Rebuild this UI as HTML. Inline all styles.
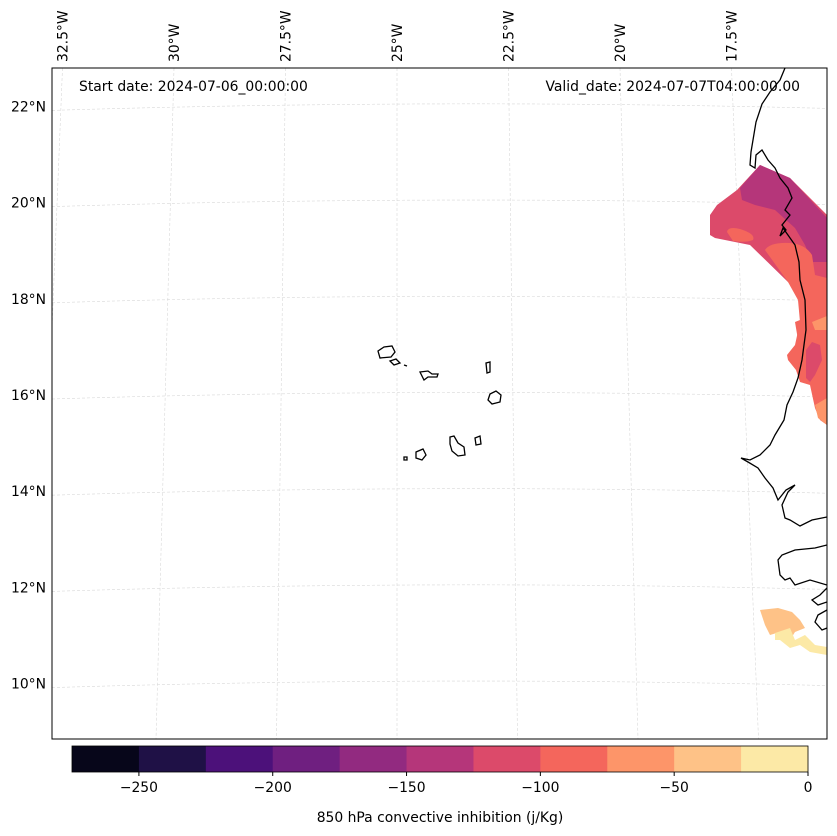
<!DOCTYPE html>
<html><head><meta charset="utf-8"><style>
html,body{margin:0;padding:0;background:#fff}
svg{display:block;font-family:"DejaVu Sans","Liberation Sans",sans-serif}
</style></head><body>
<svg id="chart" width="837" height="836" viewBox="0 0 837 836">
<defs><clipPath id="plotclip"><rect x="52" y="68" width="775" height="671"/></clipPath></defs>
<g id="grid" clip-path="url(#plotclip)"></g>
<g clip-path="url(#plotclip)">
<g id="fills"></g>
<g fill="none" stroke="#000" stroke-width="1.3">
<path d="M785,68 L780,80 L770,92 L762,104 L756,122 L753,140 L751,152 L750,165 L755,168 L756,155 L762,150 L768,160 L775,168 L780,178 L788,188 L792,198 L785,210 L790,215 L782,225 L786,230 L780,236 L783,228 L795,245 L799,262 L800,280 L805,300 L806,330 L802,360 L798,378 L793,392 L787,405 L784,420 L775,435 L770,445 L760,455 L750,460 L741,458 L748,462 L758,468 L765,478 L773,488 L778,500 L786,490 L795,485 L788,492 L782,505 L785,518 L790,520 L800,526 L812,520 L827,517"/>
<path d="M827,545 L815,548 L795,550 L782,555 L778,560 L780,575 L785,580 L790,578 L795,585 L810,580 L827,585 M827,588 L820,595 L812,600 L818,605 L827,602 M827,610 L818,615 L815,622 L822,630 L827,628"/>
<path d="M378,351 L384,347 L392,346 L395,352 L391,357 L380,358 Z"/>
<path d="M390,361 L396,359 L400,363 L394,365 Z"/>
<path d="M404,365 L407,366"/>
<path d="M420,372 L428,371 L432,374 L438,374 L437,377 L428,377 L424,380 Z"/>
<path d="M486,363 L490,362 L490,372 L487,373 Z"/>
<path d="M490,394 L496,391 L501,395 L500,402 L492,404 L488,400 Z"/>
<path d="M450,437 L454,436 L458,443 L464,447 L465,455 L458,456 L452,451 L450,444 Z"/>
<path d="M475,438 L480,436 L481,444 L476,445 Z"/>
<path d="M416,452 L423,449 L426,455 L422,460 L416,458 Z"/>
<path d="M404,457 L407,457 L407,460 L404,460 Z"/>
</g></g>
<rect x="52" y="68" width="775" height="671" fill="none" stroke="#000" stroke-width="1"/>
<text x="79" y="91" font-size="13.9">Start date: 2024-07-06_00:00:00</text>
<text x="800" y="91" font-size="13.9" text-anchor="end">Valid_date: 2024-07-07T04:00:00.00</text>
<g id="latlabels" font-size="13.9" text-anchor="end"></g>
<g id="lonlabels" font-size="13.9"></g>
<g id="cbar"></g>
<text x="440" y="822" font-size="13.9" text-anchor="middle">850 hPa convective inhibition (j/Kg)</text>
</svg>
<script>
const levels=[-275,-250,-225,-200,-175,-150,-125,-100,-75,-50,-25,0];
const colors=["#07061a","#1f1146","#4c117a","#6f1f80","#922a80","#b5367a","#dc4a6a","#f4665c","#fd9569","#fec287","#fce9a6"];
const cbTicks=[-250,-200,-150,-100,-50,0];
const latTicks=[22,20,18,16,14,12,10];
const lonTicks=[32.5,30,27.5,25,22.5,20,17.5];
const regionValues=[-125,-150,-100,-100,-100,-125,-75,-75,-50,-25];
const regionShapes=[
"M710,215 L717,205 L737,190 L760,165 L790,178 L827,215 L827,300 L800,290 L788,282 L750,245 L715,238 L710,235 Z",
"M740,188 L760,165 L790,178 L827,218 L827,262 L812,262 L805,245 L795,228 L775,210 L755,205 L742,200 Z",
"M727,232 Q728,226 740,229 Q756,234 753,240 Q745,243 733,241 Z",
"M765,250 Q770,242 790,243 Q805,244 812,255 L815,275 L827,278 L827,425 L820,420 L815,408 L810,385 L800,382 L796,370 L788,360 L787,355 L795,345 L800,322 L798,300 L788,282 Z",
"M795,322 L800,320 L803,335 L798,340 Z",
"M806,350 L812,342 L820,345 L822,360 L815,375 L810,382 L806,378 Z",
"M812,322 L827,316 L827,330 L815,330 Z",
"M815,405 L827,398 L827,425 L818,418 Z",
"M760,610 L778,608 L792,612 L800,620 L805,628 L795,632 L790,640 L780,632 L770,635 L765,625 Z",
"M775,633 L790,628 L795,640 L805,635 L815,645 L827,647 L827,655 L810,652 L800,645 L790,648 L780,640 L775,640 Z"
];
function colorFor(v){for(let i=0;i<levels.length-1;i++){if(v>=levels[i]&&v<levels[i+1])return colors[i];}return colors[colors.length-1];}
const NS="http://www.w3.org/2000/svg";
function mk(tag,attrs,parent){const e=document.createElementNS(NS,tag);for(const k in attrs)e.setAttribute(k,attrs[k]);parent.appendChild(e);return e;}
const fills=document.getElementById('fills');
regionShapes.forEach((d,i)=>{
  const p=mk('path',{d:d,fill:colorFor(regionValues[i])},fills);
  
  
});
const latY=lat=>395-(lat-16)*48.1;
const lonXTop=lon=>397-(lon-25)*44.6;
const grid=document.getElementById('grid');
latTicks.forEach(lat=>{
  const y=latY(lat);
  const g=mk('path',{d:`M52,${y+4} Q440,${y-8} 827,${y+2}`,fill:'none',stroke:'#d8d8d8','stroke-width':0.6,'stroke-dasharray':'3,2'},grid);
  
  
  const t=mk('text',{x:46,y:y+5},document.getElementById('latlabels'));t.textContent=lat+'°N';
  
  
});
lonTicks.forEach(lon=>{
  const x=lonXTop(lon);
  const xb=x+(25-lon)*3.6;
  const g=mk('line',{x1:x,y1:68,x2:xb,y2:739,stroke:'#d8d8d8','stroke-width':0.6,'stroke-dasharray':'3,2'},grid);
  
  
  const t=mk('text',{x:0,y:0,transform:`translate(${x+5},62) rotate(-90)`},document.getElementById('lonlabels'));t.textContent=lon+'°W';
  
  
});
const cb=document.getElementById('cbar');
const cbX=v=>72+(v-levels[0])/(levels[levels.length-1]-levels[0])*736;
colors.forEach((c,i)=>{
  const r=mk('rect',{x:cbX(levels[i]),y:746,width:cbX(levels[i+1])-cbX(levels[i])+0.5,height:26,fill:c},cb);
  
  
});
const fr=mk('rect',{x:72,y:746,width:736,height:26,fill:'none',stroke:'#000','stroke-width':0.8},cb);


cbTicks.forEach(v=>{
  const x=cbX(v);
  const l=mk('line',{x1:x,y1:772,x2:x,y2:776,stroke:'#000'},cb);
  
  
  const t=mk('text',{x:x,y:792,'font-size':13.9,'text-anchor':'middle'},cb);t.textContent=(v<0?'\u2212'+(-v):v);
  
  
});
</script>
</body></html>
